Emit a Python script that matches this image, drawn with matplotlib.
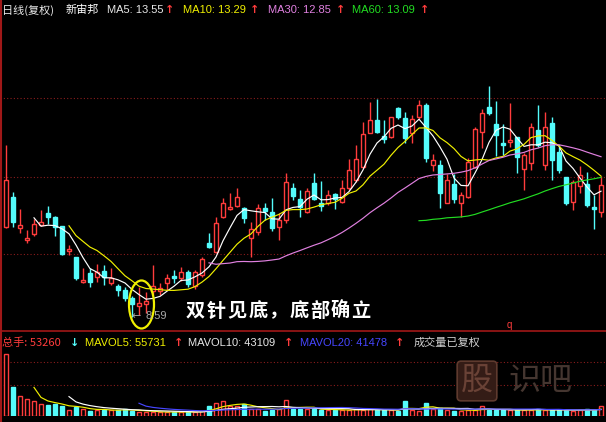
import matplotlib
matplotlib.use("Agg")
import matplotlib.pyplot as plt
import matplotlib.patches as mpatches
from matplotlib.lines import Line2D
import numpy as np
import pandas as pd

# ---------------- data ----------------
opens = [12.19, 13.39, 12.15, 11.67, 11.91, 12.27, 12.75, 12.59, 12.23, 11.23,
         10.99, 9.99, 10.35, 10.19, 10.43, 9.95, 9.83, 9.67, 9.35, 9.03,
         9.11, 9.63, 9.63, 9.95, 10.23, 10.15, 10.39, 9.83, 10.27, 11.55,
         11.19, 12.59, 12.91, 13.03, 12.95, 11.75, 11.99, 12.95, 12.79, 12.19,
         12.47, 13.75, 13.31, 12.79, 13.95, 13.15, 13.15, 13.51, 13.19, 13.75,
         14.07, 14.59, 15.95, 16.47, 15.83, 15.79, 16.95, 16.55, 15.95, 16.59,
         17.07, 14.67, 14.67, 13.15, 13.91, 13.15, 13.39, 14.59, 15.99, 16.99,
         16.31, 15.55, 15.59, 15.79, 14.51, 14.75, 16.07, 14.67, 16.35, 15.19,
         14.19, 13.19, 13.83, 13.91, 12.99, 12.79]
highs = [15.47, 13.59, 12.91, 12.07, 12.51, 12.87, 13.03, 12.63, 12.23, 11.47,
         10.99, 10.55, 10.55, 10.71, 10.67, 10.55, 9.91, 9.79, 9.43, 9.79,
         9.59, 10.67, 9.95, 10.31, 10.47, 10.59, 10.47, 10.47, 10.99, 11.95,
         12.59, 13.35, 13.55, 13.75, 12.99, 12.39, 13.11, 13.15, 13.35, 12.75,
         14.35, 13.95, 13.67, 13.75, 14.35, 14.03, 13.67, 13.55, 14.07, 14.91,
         15.47, 16.39, 17.19, 17.31, 16.47, 16.59, 16.99, 16.79, 16.67, 17.27,
         17.15, 15.11, 14.87, 14.31, 14.31, 13.59, 14.95, 16.19, 16.91, 17.83,
         17.23, 16.31, 17.15, 15.79, 15.15, 16.35, 17.07, 16.79, 16.59, 15.47,
         14.19, 14.07, 14.63, 14.39, 13.47, 14.23]
lows = [12.15, 12.19, 11.95, 11.55, 11.83, 12.23, 12.31, 11.83, 11.07, 11.07,
        10.07, 9.95, 9.79, 9.99, 9.87, 9.87, 9.43, 9.23, 8.59, 8.67,
        8.75, 9.47, 9.47, 9.67, 9.95, 10.03, 9.79, 9.71, 10.19, 11.35,
        11.15, 12.55, 12.87, 12.99, 12.35, 10.99, 11.87, 12.47, 12.03, 11.67,
        12.35, 13.27, 12.59, 12.75, 13.27, 12.83, 13.07, 12.91, 13.15, 13.67,
        13.99, 14.55, 15.95, 15.95, 15.55, 15.75, 16.51, 15.55, 15.55, 16.51,
        14.79, 14.43, 12.95, 13.15, 13.15, 12.59, 13.35, 14.55, 15.35, 16.67,
        15.03, 15.07, 15.39, 14.35, 13.67, 14.47, 15.39, 14.47, 14.07, 14.35,
        13.07, 12.87, 13.55, 12.99, 12.11, 12.59]
closes = [14.07, 12.39, 12.27, 11.75, 12.31, 12.39, 12.59, 12.19, 11.11, 11.31,
          10.15, 10.07, 9.99, 10.39, 10.19, 10.15, 9.67, 9.35, 9.11, 9.15,
          9.23, 9.83, 9.75, 10.15, 10.15, 10.39, 9.91, 10.39, 10.91, 11.39,
          12.35, 13.15, 12.99, 13.39, 12.55, 12.11, 12.95, 12.83, 12.15, 12.47,
          13.99, 13.43, 12.99, 13.63, 13.31, 13.03, 13.47, 13.31, 13.75, 14.47,
          14.91, 15.91, 16.47, 15.99, 15.71, 16.59, 16.59, 15.75, 16.51, 17.07,
          14.95, 14.87, 13.55, 14.07, 13.31, 13.47, 14.79, 16.11, 16.75, 16.75,
          15.87, 15.47, 15.67, 14.99, 15.07, 16.19, 15.47, 16.19, 14.87, 14.47,
          13.15, 13.99, 14.27, 13.07, 12.91, 13.87]
volumes = [328600, 153700, 106000, 90100, 79500, 63600, 58300, 63600, 53000, 31800,
           47700, 37100, 26500, 31800, 31800, 31800, 31800, 37100, 26500, 21200,
           21200, 21200, 21200, 21200, 21200, 21200, 21200, 21200, 26500, 53000,
           68900, 79500, 53000, 53000, 63600, 37100, 37100, 26500, 31800, 37100,
           84800, 37100, 37100, 37100, 37100, 31800, 31800, 31800, 31800, 31800,
           37100, 31800, 37100, 31800, 31800, 31800, 26500, 79500, 31800, 26500,
           68900, 37100, 42400, 31800, 26500, 26500, 31800, 31800, 53000, 31800,
           31800, 31800, 31800, 31800, 31800, 31800, 37100, 31800, 31800, 31800,
           31800, 26500, 31800, 37100, 31800, 53260]

price_grid = [17.35, 14.19, 11.11]
vol_grid = [286200, 164300]
ma_windows = [5, 10, 30, 60]
mavol_windows = [5, 10, 20]

# ---------------- styling ----------------
W, H = 606, 422
RED = '#ff3c3c'
CYAN = '#54fcfc'
GRID = '#8a1c1c'
MA_COLORS = {5: '#ffffff', 10: '#f0f000', 30: '#e080e0', 60: '#22dd22'}
MAVOL_COLORS = {5: '#f0f000', 10: '#ffffff', 20: '#4646ff'}
LATIN = 'Liberation Sans'
CJK = ['Noto Sans CJK SC', 'DejaVu Sans']

fig = plt.figure(figsize=(W / 100, H / 100), dpi=100, facecolor='black')


def rect(x0, y0, x1, y1):
    return [x0 / W, 1 - y1 / H, (x1 - x0) / W, (y1 - y0) / H]


def ftext(x, y, s, color, size=8, family=LATIN, **kw):
    fig.text(x / W, 1 - y / H, s, color=color, fontsize=size, family=family,
             va='center', ha='left', **kw)


n = len(closes)
xs = np.arange(n)
o = np.array(opens); c = np.array(closes)
hi = np.array(highs); lo = np.array(lows)
vol = np.array(volumes)
up = c >= o

# ---------------- price panel ----------------
ax = fig.add_axes(rect(0, 20, 606, 331), facecolor='black')
ax.set_xlim(-6 / 7, 600 / 7)
ax.set_ylim(8.03, 20.47)
for g in price_grid:
    ax.axhline(g, color=GRID, lw=0.8, ls=(0, (1, 2)), zorder=1)

for i in range(n):
    col = RED if up[i] else CYAN
    ax.vlines(xs[i], lo[i], hi[i], color=col, lw=1, zorder=2)
    b = min(o[i], c[i])
    h = max(abs(c[i] - o[i]), 0.03)
    ax.bar(xs[i], h, bottom=b, width=0.62,
           facecolor='black' if up[i] else CYAN,
           edgecolor=col, lw=1, zorder=3)

cs = pd.Series(c)
for w in ma_windows:
    ax.plot(xs, cs.rolling(w, min_periods=w).mean(), color=MA_COLORS[w],
            lw=0.85, zorder=4)
ax.axis('off')

# ---------------- volume panel ----------------
av = fig.add_axes(rect(0, 333, 606, 416), facecolor='black')
av.set_xlim(-6 / 7, 600 / 7)
av.set_ylim(0, 439900)
for g in vol_grid:
    av.axhline(g, color=GRID, lw=0.8, ls=(0, (1, 2)), zorder=1)
av.bar(xs[up], vol[up], width=0.62, facecolor='black', edgecolor=RED, lw=1, zorder=2)
av.bar(xs[~up], vol[~up], width=0.62, facecolor=CYAN, edgecolor=CYAN, lw=1, zorder=2)
vs = pd.Series(vol)
for w in mavol_windows:
    av.plot(xs, vs.rolling(w, min_periods=w).mean(), color=MAVOL_COLORS[w],
            lw=0.85, zorder=3)
av.axis('off')

# borders
fig.add_artist(Line2D([0, 1], [1 - 331 / H] * 2, color='#a01818', lw=1.2,
                      transform=fig.transFigure))
fig.add_artist(Line2D([1.2 / W] * 2, [0, 1], color='#a01818', lw=1.5,
                      transform=fig.transFigure))

# ---------------- header ----------------
ftext(2, 10, '日线(复权)', '#e8e8e8', 8, CJK)
ftext(66, 10, '新宙邦', '#ffffff', 8, CJK)
ftext(107, 10, 'MA5: 13.55', '#e8e8e8')
ftext(165, 10, '↑', RED, 8, 'DejaVu Sans', fontweight='bold')
ftext(183, 10, 'MA10: 13.29', '#f0f000')
ftext(250, 10, '↑', RED, 8, 'DejaVu Sans', fontweight='bold')
ftext(268, 10, 'MA30: 12.85', '#e080e0')
ftext(336, 10, '↑', RED, 8, 'DejaVu Sans', fontweight='bold')
ftext(352, 10, 'MA60: 13.09', '#22dd22')
ftext(420, 10, '↑', RED, 8, 'DejaVu Sans', fontweight='bold')

ftext(2, 343, '总手: 53260', RED, 8, CJK)
ftext(70, 343, '↓', CYAN, 8, 'DejaVu Sans', fontweight='bold')
ftext(85, 343, 'MAVOL5: 55731', '#f0f000')
ftext(174, 343, '↑', RED, 8, 'DejaVu Sans', fontweight='bold')
ftext(188, 343, 'MAVOL10: 43109', '#e8e8e8')
ftext(284, 343, '↑', RED, 8, 'DejaVu Sans', fontweight='bold')
ftext(300, 343, 'MAVOL20: 41478', '#4646ff')
ftext(395, 343, '↑', RED, 8, 'DejaVu Sans', fontweight='bold')
ftext(414, 343, '成交量已复权', '#d0d0d0', 8, CJK)

# ---------------- annotations ----------------
fig.add_artist(mpatches.Ellipse((141.5 / W, 1 - 304.5 / H), 25 / W, 48 / H,
                                transform=fig.transFigure, fill=False,
                                edgecolor='#f0f000', lw=1.6))
ftext(132, 316, '←', '#a0a0a0', 8, 'DejaVu Sans')
ftext(146, 316, '8.59', '#a8a8a8', 8)
title_chars = '双针见底，底部确立'
for k, ch in enumerate(title_chars):
    ftext(186 + k * 20.7, 311, ch, '#ffffff', 13.8, CJK, fontweight='bold')
ftext(507, 325, 'q', RED, 7)

# watermark
fig.text(477 / W, 1 - 381 / H, '股', color='#6a4236', fontsize=23, family=CJK,
         va='center', ha='center',
         bbox=dict(boxstyle='round,pad=0.12', facecolor='#341c16',
                   edgecolor='#5e3a2e', lw=1.2))
fig.text(540 / W, 1 - 381 / H, '识吧', color='#453630', fontsize=23, family=CJK,
         va='center', ha='center')

fig.savefig('out.png', dpi=100, facecolor='black')
